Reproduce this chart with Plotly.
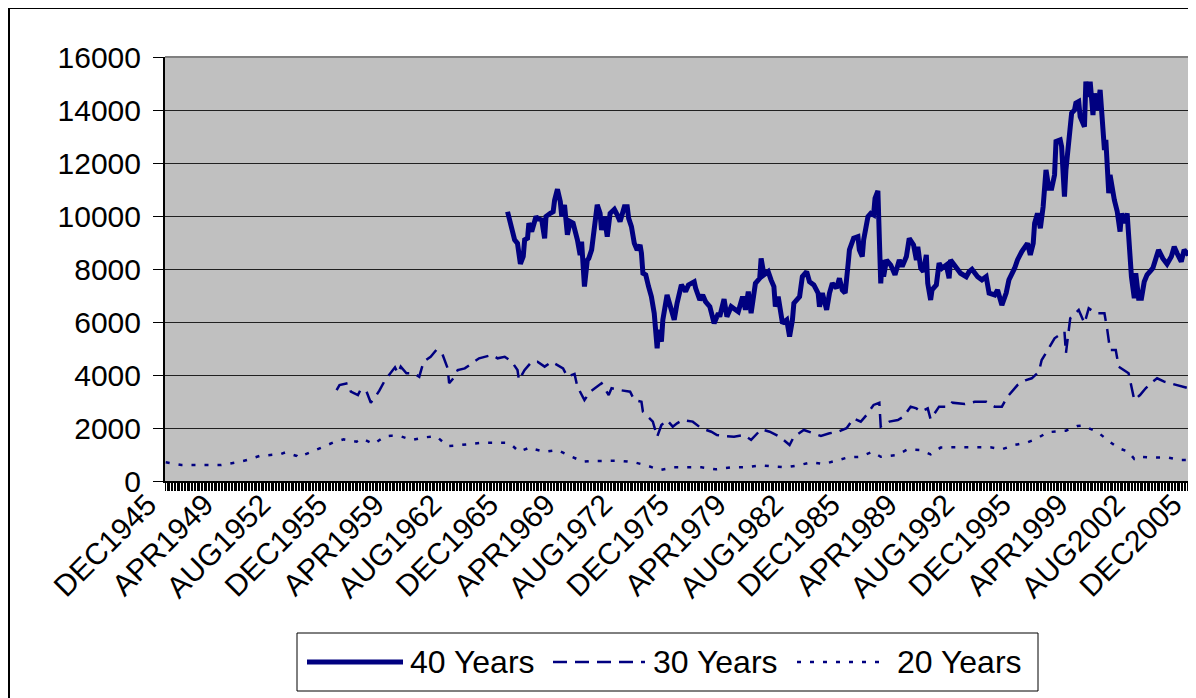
import plotly.graph_objects as go

# ---------------- data ----------------
tick_labels = ["DEC1945", "APR1949", "AUG1952", "DEC1955", "APR1959", "AUG1962",
               "DEC1965", "APR1969", "AUG1972", "DEC1975", "APR1979", "AUG1982",
               "DEC1985", "APR1989", "AUG1992", "DEC1995", "APR1999", "AUG2002",
               "DEC2005"]
y_ticks = [0, 2000, 4000, 6000, 8000, 10000, 12000, 14000, 16000]
series_names = ["40 Years", "30 Years", "20 Years"]

dates_40 = ["1965-12", "1966-02", "1966-03", "1966-05", "1966-07", "1966-08", "1966-09", "1966-11", "1966-12",
            "1967-02", "1967-03", "1967-05", "1967-07", "1967-08", "1967-09", "1967-12", "1968-02", "1968-03",
            "1968-06", "1968-08", "1968-09", "1968-11", "1969-01", "1969-02", "1969-04", "1969-06", "1969-08",
            "1969-10", "1970-01", "1970-03", "1970-04", "1970-05", "1970-06", "1970-08", "1970-09", "1970-11",
            "1971-01", "1971-03", "1971-05", "1971-06", "1971-08", "1971-10", "1971-12", "1972-03", "1972-05",
            "1972-07", "1972-10", "1972-12", "1973-01", "1973-03", "1973-05", "1973-07", "1973-09", "1973-10",
            "1973-11", "1974-01", "1974-03", "1974-05", "1974-07", "1974-08", "1974-09", "1974-10", "1974-12",
            "1975-01", "1975-03", "1975-04", "1975-07", "1975-09", "1975-11", "1976-01", "1976-02", "1976-05",
            "1976-07", "1976-11", "1976-12", "1977-03", "1977-05", "1977-07", "1977-10", "1978-01", "1978-04",
            "1978-05", "1978-08", "1978-10", "1979-01", "1979-06", "1979-09", "1979-11", "1980-01", "1980-03",
            "1980-06", "1980-09", "1980-10", "1980-12", "1981-03", "1981-05", "1981-07", "1981-08", "1981-10",
            "1982-01", "1982-04", "1982-06", "1982-08", "1982-09", "1983-01", "1983-03", "1983-06", "1983-08",
            "1983-11", "1984-02", "1984-03", "1984-05", "1984-08", "1984-10", "1984-12", "1985-03", "1985-05",
            "1985-07", "1985-09", "1985-11", "1985-12", "1986-03", "1986-06", "1986-07", "1986-09", "1986-10",
            "1987-01", "1987-03", "1987-05", "1987-06", "1987-08", "1987-10", "1987-11", "1987-12", "1988-02",
            "1988-05", "1988-08", "1988-11", "1989-01", "1989-04", "1989-06", "1989-09", "1989-11", "1989-12",
            "1990-02", "1990-04", "1990-06", "1990-07", "1990-09", "1990-10", "1991-01", "1991-03", "1991-05",
            "1991-08", "1991-10", "1991-11", "1992-03", "1992-06", "1992-10", "1992-12", "1993-02", "1993-06",
            "1993-09", "1993-12", "1994-02", "1994-06", "1994-08", "1994-10", "1994-11", "1995-02", "1995-04",
            "1995-08", "1995-10", "1996-01", "1996-05", "1996-07", "1996-09", "1996-10", "1996-12", "1997-02",
            "1997-04", "1997-06", "1997-08", "1997-10", "1997-12", "1998-01", "1998-04", "1998-05", "1998-07",
            "1998-08", "1998-10", "1998-12", "1999-02", "1999-03", "1999-05", "1999-06", "1999-09", "1999-10",
            "1999-12", "2000-01", "2000-03", "2000-04", "2000-06", "2000-08", "2000-09", "2000-11", "2000-12",
            "2001-02", "2001-03", "2001-05", "2001-06", "2001-08", "2001-10", "2001-11", "2002-01", "2002-03",
            "2002-04", "2002-05", "2002-06", "2002-08", "2002-09", "2002-11", "2003-01", "2003-03", "2003-05",
            "2003-09", "2003-11", "2004-01", "2004-04", "2004-07", "2004-10", "2004-12", "2005-02", "2005-05",
            "2005-07", "2005-09", "2005-12"]
vals_40 = [10160, 9730, 9470, 9100, 8970, 8340, 8190, 8470, 9100,
           9160, 9730, 9410, 9850, 9980, 9910, 9850, 9160, 9980,
           10100, 10160, 10600, 11010, 10540, 9980, 10420, 9290, 9790,
           9730, 9100, 8530, 9030, 8340, 7340, 8340, 8400, 8720,
           9600, 10420, 10100, 9470, 9980, 9220, 10100, 10250, 10040,
           9790, 10350, 10350, 9910, 9600, 8970, 8720, 8910, 8590,
           7840, 7780, 7340, 6960, 6330, 5700, 5010, 5700, 5260,
           6080, 6580, 7020, 6460, 6080, 6710, 7280, 7400, 7150,
           7400, 7520, 7280, 6830, 7020, 6770, 6580, 5950, 6330,
           6200, 6860, 6200, 6580, 6390, 6960, 6460, 7150, 6330,
           7460, 7650, 8400, 7780, 7900, 7590, 7340, 6580, 6960,
           5950, 6080, 5450, 6080, 6710, 6960, 7710, 7900, 7520,
           7400, 7090, 6580, 7090, 6460, 7090, 7460, 7280, 7650,
           7210, 7090, 8150, 8720, 9160, 9220, 8720, 8470, 9100,
           9980, 10100, 10040, 10670, 10950, 7460, 8340, 7710, 8340,
           8150, 7780, 8340, 8090, 8470, 9160, 8910, 8340, 8840,
           8030, 7900, 8530, 7460, 6830, 7210, 7400, 8220, 8030,
           8150, 7650, 8340, 8090, 7840, 7710, 7900, 7990, 7710,
           7590, 7710, 7090, 7020, 7210, 6770, 6640, 7090, 7590,
           8030, 8340, 8660, 8970, 8530, 8970, 9730, 10100, 9540,
           10350, 11740, 11050, 11050, 11550, 12810, 12870, 12620, 10730,
           11740, 12750, 13880, 14000, 14260, 14320, 13750, 13370, 15070,
           14500, 15070, 13810, 14630, 14000, 14760, 14000, 12490, 12870,
           10860, 11550, 10860, 10600, 10170, 9410, 10100, 9730, 10100,
           9350, 8590, 7710, 6900, 7840, 6900, 6900, 7520, 7780,
           8030, 8470, 8720, 8400, 8190, 8470, 8840, 8590, 8280,
           8720, 8590, 8660]

dates_30 = ["1955-12", "1956-02", "1956-08", "1956-10", "1957-03", "1957-05", "1957-09", "1957-12", "1958-03",
            "1958-06", "1958-10", "1959-05", "1959-07", "1959-09", "1960-01", "1960-06", "1960-10", "1961-01",
            "1961-06", "1961-10", "1962-02", "1962-06", "1962-07", "1962-10", "1963-01", "1963-06", "1963-11",
            "1964-04", "1965-01", "1965-05", "1965-10", "1966-03", "1966-07", "1966-08", "1966-12", "1967-05",
            "1967-09", "1968-02", "1968-07", "1968-11", "1969-03", "1969-06", "1969-11", "1970-01", "1970-06",
            "1970-10", "1971-06", "1971-11", "1972-01", "1972-07", "1973-02", "1973-05", "1973-10", "1973-11",
            "1974-06", "1974-09", "1974-12", "1975-04", "1975-08", "1975-11", "1976-03", "1976-10", "1977-04",
            "1977-11", "1978-03", "1978-08", "1979-03", "1979-10", "1980-03", "1980-10", "1981-04", "1981-11",
            "1982-06", "1982-09", "1983-04", "1984-04", "1984-10", "1985-04", "1985-10", "1986-03", "1986-08",
            "1986-12", "1987-05", "1987-09", "1987-10", "1988-04", "1988-10", "1989-02", "1989-07", "1989-11",
            "1990-02", "1990-07", "1990-09", "1991-03", "1991-10", "1991-12", "1992-09", "1993-04", "1993-12",
            "1994-06", "1994-11", "1995-03", "1995-10", "1996-04", "1996-08", "1997-01", "1997-03", "1997-08",
            "1997-12", "1998-07", "1998-08", "1998-11", "1999-05", "1999-09", "1999-12", "2000-05", "2000-11",
            "2001-01", "2001-03", "2001-07", "2001-09", "2002-04", "2002-08", "2002-12", "2003-04", "2003-09",
            "2003-12", "2004-05", "2004-09", "2005-03", "2005-10", "2005-12"]
vals_30 = [3430, 3620, 3690, 3370, 3245, 3460, 3370, 2955, 3160,
           3410, 3810, 4290, 4065, 4315, 4065, 4065, 3935, 4500,
           4690, 4945, 4820, 4250, 3690, 3875, 4190, 4250, 4440,
           4630, 4755, 4630, 4690, 4500, 4190, 3810, 4190, 4500,
           4500, 4315, 4500, 4380, 4250, 3935, 4040, 3560, 3055,
           3370, 3690, 3245, 3500, 3430, 3370, 3055, 2990, 2615,
           2240, 1670, 2110, 2300, 2050, 2175, 2300, 2240, 1990,
           1860, 1735, 1700, 1670, 1735, 1550, 1950, 1860, 1670,
           1360, 1670, 1925, 1700, 1800, 1860, 1990, 2365, 2240,
           2490, 2870, 2950, 2050, 2240, 2300, 2430, 2805, 2740,
           2615, 2740, 2330, 2805, 2805, 2955, 2905, 2990, 2990,
           2805, 2805, 3180, 3620, 3810, 3875, 4125, 4565, 5010,
           5385, 5635, 4820, 6140, 6455, 5950, 6515, 6330, 6330,
           5700, 4945, 4945, 4315, 4065, 3055, 3245, 3500, 3750,
           3875, 3750, 3690, 3620, 3500, 3450]

dates_20 = ["1945-12", "1946-11", "1947-09", "1948-06", "1949-03", "1950-02", "1950-09", "1951-06", "1952-02",
            "1952-09", "1952-12", "1953-08", "1953-09", "1954-05", "1955-01", "1955-10", "1956-05", "1956-12",
            "1957-02", "1957-05", "1957-08", "1958-02", "1958-04", "1958-10", "1959-02", "1959-09", "1960-05",
            "1961-02", "1961-10", "1962-06", "1963-01", "1963-08", "1964-06", "1965-03", "1965-12", "1966-03",
            "1966-08", "1967-04", "1967-06", "1968-02", "1968-11", "1969-09", "1970-05", "1970-11", "1971-09",
            "1972-07", "1973-05", "1974-02", "1974-11", "1975-09", "1976-06", "1977-04", "1978-02", "1979-01",
            "1979-11", "1980-10", "1981-08", "1982-03", "1982-12", "1983-09", "1984-06", "1985-02", "1985-11",
            "1986-08", "1987-04", "1987-10", "1988-09", "1989-05", "1990-02", "1990-09", "1991-04", "1991-12",
            "1992-10", "1993-06", "1994-03", "1994-11", "1995-08", "1996-05", "1996-12", "1997-07", "1997-12",
            "1998-08", "1999-04", "1999-08", "1999-12", "2000-06", "2001-01", "2001-09", "2002-04", "2002-08",
            "2002-11", "2003-07", "2004-07", "2005-05", "2005-12"]
vals_20 = [705, 605, 605, 605, 605, 705, 790, 945, 980,
           1020, 1080, 945, 890, 1080, 1270, 1460, 1570, 1520,
           1485, 1595, 1550, 1395, 1470, 1685, 1710, 1685, 1550,
           1650, 1685, 1320, 1345, 1395, 1445, 1445, 1440, 1360,
           1105, 1270, 1210, 1105, 1170, 915, 730, 755, 755,
           765, 705, 580, 415, 515, 515, 515, 440, 515,
           515, 590, 540, 515, 590, 705, 640, 765, 890,
           915, 1105, 915, 980, 1195, 1170, 1005, 1260, 1270,
           1270, 1295, 1270, 1195, 1360, 1460, 1610, 1840, 1860,
           1900, 2075, 2090, 1990, 1860, 1550, 1235, 1105, 830,
           915, 890, 890, 790, 790]

# ---------------- styling ----------------
NAVY = "#000080"
FONT = "Liberation Sans, Arial, sans-serif"
MONTHS = {"JAN": 1, "FEB": 2, "MAR": 3, "APR": 4, "MAY": 5, "JUN": 6,
          "JUL": 7, "AUG": 8, "SEP": 9, "OCT": 10, "NOV": 11, "DEC": 12}
tick_dates = ["%s-%02d-01" % (lab[3:], MONTHS[lab[:3]]) for lab in tick_labels]

styles = [dict(width=5, dash="solid"),
          dict(width=2.5, dash="14px,8px"),
          dict(width=2.5, dash="4px,9px")]
series = [(dates_40, vals_40), (dates_30, vals_30), (dates_20, vals_20)]

fig = go.Figure()
for name, (d, v), st in zip(series_names, series, styles):
    fig.add_trace(go.Scatter(x=d, y=v, name=name, mode="lines", showlegend=False,
                             line=dict(color=NAVY, width=st["width"], dash=st["dash"])))

# page offset (the html body has an 8px margin)
OFF = 8
W, H = 1196 - OFF, 698 - OFF
L, R, T, B = 165 - OFF, 4, 57 - OFF, 217
pw, ph = W - L - R, H - T - B


def px(x):  # reference-screen x -> paper
    return (x - OFF - L) / pw


def py(y):  # reference-screen y -> paper
    return (H - B - (y - OFF)) / ph


shapes = []
# outer chart border
shapes.append(dict(type="rect", xref="paper", yref="paper", x0=px(9), x1=px(1210),
                   y0=py(710), y1=py(8), line=dict(color="black", width=2)))
# top / right plot-area border (grey)
shapes.append(dict(type="line", xref="paper", yref="paper", x0=0, x1=1, y0=1, y1=1,
                   line=dict(color="#808080", width=2)))
shapes.append(dict(type="line", xref="paper", yref="paper", x0=1, x1=1, y0=0, y1=1,
                   line=dict(color="#808080", width=2)))
# legend box
shapes.append(dict(type="rect", xref="paper", yref="paper", x0=px(297), x1=px(1038),
                   y0=py(691), y1=py(633), line=dict(color="black", width=1),
                   fillcolor="white"))
leg_y = py(662)
leg_items = [(307, 403, 408), (553, 645, 651), (797, 888, 895)]
annotations = []
for name, st, (xa, xb, xt) in zip(series_names, styles, leg_items):
    shapes.append(dict(type="line", xref="paper", yref="paper", x0=px(xa), x1=px(xb),
                       y0=leg_y, y1=leg_y,
                       line=dict(color=NAVY, width=st["width"], dash=st["dash"])))
    annotations.append(dict(text=name, xref="paper", yref="paper", x=px(xt), y=leg_y,
                            xanchor="left", yanchor="middle", showarrow=False,
                            font=dict(family=FONT, size=32, color="black")))

fig.update_layout(
    width=W, height=H,
    margin=dict(l=L, r=R, t=T, b=B),
    paper_bgcolor="white",
    plot_bgcolor="#C0C0C0",
    font=dict(family=FONT, size=30, color="black"),
    shapes=shapes,
    annotations=annotations,
    hovermode=False,
)
fig.update_xaxes(
    type="date",
    range=["1945-11-16", "2005-12-16"],
    tickvals=tick_dates, ticktext=tick_labels,
    tickangle=-45,
    tickfont=dict(family=FONT, size=30, color="black"),
    ticks="outside", ticklen=8, tickcolor="black", tickwidth=1,
    ticklabelshift=-18, ticklabelstandoff=-16,
    minor=dict(ticks="outside", ticklen=8, tickcolor="black", tickwidth=1,
               dtick="M1", tick0="1945-12-01", showgrid=False),
    showgrid=False, showline=True, linecolor="black", linewidth=2,
    zeroline=False,
)
fig.update_yaxes(
    range=[0, 16000],
    tickvals=y_ticks, tickformat="d",
    tickfont=dict(family=FONT, size=30, color="black"),
    ticks="outside", ticklen=10, tickcolor="black", tickwidth=1,
    ticklabelstandoff=6,
    showgrid=True, gridcolor="#202020", gridwidth=1,
    showline=True, linecolor="black", linewidth=2,
    zeroline=False,
)

fig.write_html("out.html")
